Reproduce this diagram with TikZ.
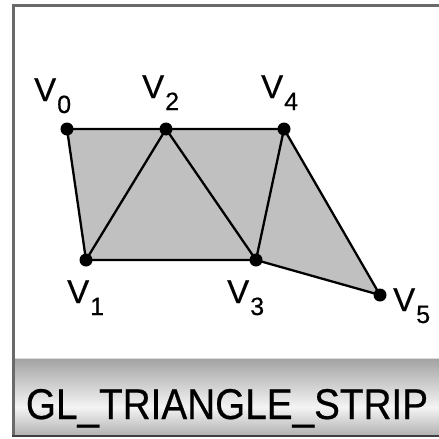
\documentclass[tikz,border=0pt]{standalone}
\usepackage{fontspec}
\setmainfont{Liberation Sans}[FakeBold=0.5]
\definecolor{fillg}{HTML}{C0C0C0}
\definecolor{frameg}{HTML}{6A6A6A}
\definecolor{shA}{HTML}{B2B2B2}
\definecolor{shB}{HTML}{F4F4F4}
\definecolor{shC}{HTML}{A2A2A2}
\pgfdeclareverticalshading{barshade}{100bp}{color(0bp)=(shA); color(25bp)=(shA); color(43bp)=(shB); color(75bp)=(shC); color(100bp)=(shC)}
\newcommand{\vlab}[1]{{\fontsize{33}{33}\selectfont V\kern1pt\raisebox{-12pt}{\fontsize{25}{25}\selectfont #1}}}
\tikzset{
  vdot/.style={circle, fill=black, inner sep=0pt, minimum size=13pt},
  vlabel/.style={anchor=base west, inner sep=0pt},
  edge/.style={line width=2.3pt, black, line join=round},
}
\begin{document}
\begin{tikzpicture}[x=1pt,y=-1pt]
\useasboundingbox (0,0) rectangle (439,439);
\fill[white] (0,0) rectangle (439,439);
% bottom bar
\shade[shading=barshade] (15,358) rectangle (439,435);
\draw[white!85!black, line width=0.8pt] (15,358.5) -- (439,358.5);
% frame
\draw[frameg, line width=3pt] (13.5,436) -- (13.5,5.5) -- (439,5.5);
\draw[black!75, line width=1.5pt] (12,436) -- (439,436);
\node[font=\fontsize{43}{43}\selectfont, xscale=0.9, anchor=base] (title) at (227,419) {GL\_TRIANGLE\_STRIP};
% vertices
\coordinate (v0) at (67,129);
\coordinate (v1) at (86,260);
\coordinate (v2) at (166,129);
\coordinate (v3) at (256,260);
\coordinate (v4) at (284,129);
\coordinate (v5) at (380,295);
\fill[fillg] (v0) -- (v2) -- (v4) -- (v5) -- (v3) -- (v1) -- cycle;
\draw[edge] (v0) -- (v2) -- (v4) -- (v5) -- (v3) -- (v1) -- cycle;
\draw[edge] (v1) -- (v2) -- (v3) -- (v4);
\foreach \v in {v0,v1,v2,v3,v4,v5} \node[vdot] (d\v) at (\v) {};
% labels
\node[vlabel] (l0) at (34,101) {\vlab{0}};
\node[vlabel] (l2) at (142,98) {\vlab{2}};
\node[vlabel] (l4) at (261,98) {\vlab{4}};
\node[vlabel] (l1) at (67,303) {\vlab{1}};
\node[vlabel] (l3) at (227,303) {\vlab{3}};
\node[vlabel] (l5) at (393,311) {\vlab{5}};
\end{tikzpicture}
\end{document}
